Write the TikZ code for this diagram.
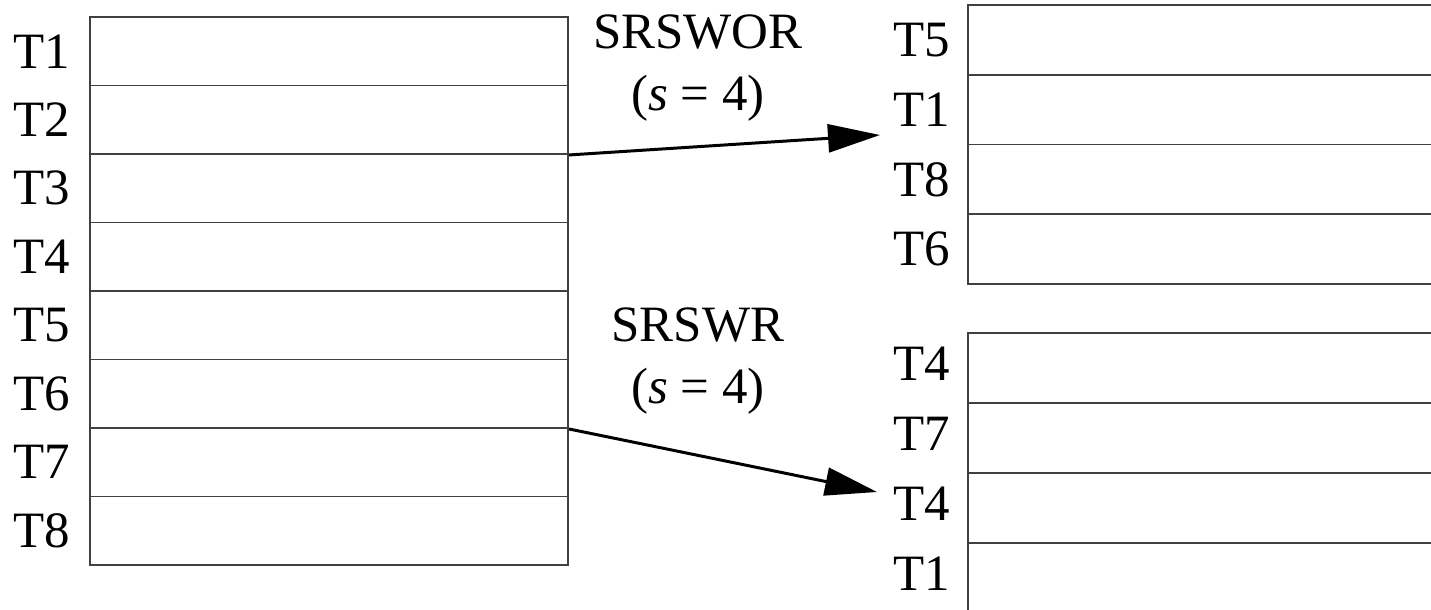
\documentclass[tikz,border=0pt]{standalone}
\usepackage{fontspec}
\setmainfont{Liberation Serif}
\usetikzlibrary{arrows.meta}

\tikzset{
    leftrow/.style = {draw = black!75, line width = 1.1pt, inner sep = 0pt,
        minimum width = 9.56cm, minimum height = 1.37cm},
    rightrow/.style = {draw = black!75, line width = 1.1pt, inner sep = 0pt,
        minimum width = 12cm, minimum height = #1},
    tlabel/.style = {anchor = east, inner sep = 0pt, font = \fontsize{29}{34}\selectfont},
    method/.style = {align = center, inner sep = 0pt, font = \fontsize{29}{35}\selectfont},
    conn/.style = {line width = 1.7pt, -{Triangle[length = 10.4mm, width = 5.6mm]}}
}

\begin{document}
\begin{tikzpicture}[x = 0.02cm, y = -0.02cm]
                \useasboundingbox (0, 0) rectangle (1431, 609);
                \clip (0, 0) rectangle (1431, 609);
                % population
                \foreach \t [count = \i] in {1, 2, 3, 4, 5, 6, 7, 8} {
                    \node[leftrow] (L\i) at (329, {17 + 68.5*(\i - 0.5)}) {};
                    \node[tlabel] (lT\i) at (70, {17 + 68.5*(\i - 0.5)}) {T\t};
                }
                % sample without replacement
                \foreach \t [count = \i] in {5, 1, 8, 6} {
                    \node[rightrow = 1.395cm] (A\i) at (1268, {5 + 69.75*(\i - 0.5)}) {};
                    \node[tlabel] (aT\i) at (950, {5 + 69.75*(\i - 0.5)}) {T\t};
                }
                % sample with replacement
                \foreach \t [count = \i] in {4, 7, 4, 1} {
                    \node[rightrow = 1.4cm] (B\i) at (1268, {333 + 70*(\i - 0.5)}) {};
                    \node[tlabel] (bT\i) at (950, {333 + 70*(\i - 0.5) - 4}) {T\t};
                }
                \node[method] (wor) at (698, 68) {SRSWOR\\({\itshape s} = 4)};
                \node[method] (wr) at (698, 361) {SRSWR\\({\itshape s} = 4)};
                \coordinate (worend) at (880, 135);
                \coordinate (wrend) at (877, 492);
                \draw[conn] (L2.south east) -- (worend);
                \draw[conn] (L6.south east) -- (wrend);
            \end{tikzpicture}
\end{document}
